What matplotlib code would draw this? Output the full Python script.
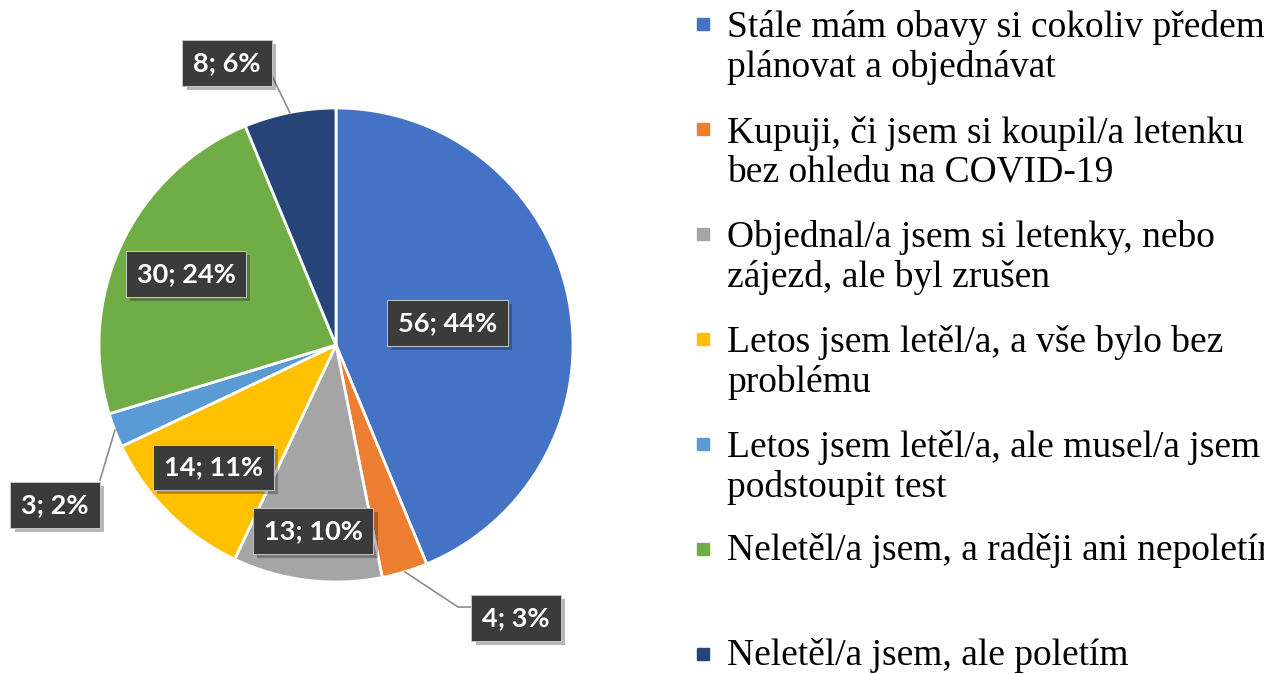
import numpy as np
import matplotlib.pyplot as plt
from matplotlib import patheffects as pe

# data
answers = ["Stále mám obavy si cokoliv předem\nplánovat a objednávat",
           "Kupuji, či jsem si koupil/a letenku\nbez ohledu na COVID-19",
           "Objednal/a jsem si letenky, nebo\nzájezd, ale byl zrušen",
           "Letos jsem letěl/a, a vše bylo bez\nproblému",
           "Letos jsem letěl/a, ale musel/a jsem\npodstoupit test",
           "Neletěl/a jsem, a raději ani nepoletím",
           "Neletěl/a jsem, ale poletím"]
counts = [56, 4, 13, 14, 3, 30, 8]
pcts = [44, 3, 10, 11, 2, 24, 6]
colors = ["#4472C4", "#ED7D31", "#A5A5A5", "#FFC000", "#5B9BD5", "#70AD47", "#264478"]

W, H = 1264, 674
cx, cy, R = 336, H - 345, 237

fig = plt.figure(figsize=(12.64, 6.74), dpi=100)
ax = fig.add_axes([0, 0, 1, 1])

wedges, _ = ax.pie(counts, colors=colors, startangle=90, counterclock=False,
                   center=(cx, cy), radius=R, frame=True,
                   wedgeprops=dict(edgecolor="white", linewidth=2))
ax.set_xlim(0, W)
ax.set_ylim(0, H)
ax.set_aspect("equal")
ax.axis("off")

## label layout: inside -> radius fraction, outside -> box centre (px from pie centre)
inside_r = {0: 0.48, 2: 0.79, 3: 0.73, 5: 0.70}
outside = {1: (180, -273), 4: (-281, -160), 6: (-109, 282)}
# leader line bends (px from pie centre)
leader = {1: [(122, -262), (136, -262)], 4: [(-236, -135)], 6: [(-63, 267)]}

def box_text(x, y, s):
	t = ax.text(x, y, s, ha="center", va="center", color="white", fontsize=19.5,
	            fontweight="bold", family=["Lato", "DejaVu Sans"], zorder=5,
	            bbox=dict(boxstyle="square,pad=0.4", fc="#3b3b3b", ec="#d0d0d0", lw=0.6))
	t.get_bbox_patch().set_path_effects([pe.withSimplePatchShadow(offset=(3, -3), alpha=0.3), pe.Normal()])
	return t

for i, w in enumerate(wedges):
	ang = np.deg2rad((w.theta1 + w.theta2) / 2)
	s = "%d; %d%%" % (counts[i], pcts[i])
	if i in inside_r:
		r = inside_r[i] * R
		box_text(cx + r * np.cos(ang), cy + r * np.sin(ang), s)
	else:
		dx, dy = outside[i]
		box_text(cx + dx, cy + dy, s)
		xs = [cx + R * np.cos(ang)] + [cx + p[0] for p in leader[i]]
		ys = [cy + R * np.sin(ang)] + [cy + p[1] for p in leader[i]]
		ax.plot(xs, ys, color="#8c8c8c", lw=1.2, zorder=4)

## legend on the right
line_h = 42
for i, lab in enumerate(answers):
	base = H - (35 + i * 105)
	nl = lab.count("\n")
	ax.plot(703, base + 11, marker="s", ms=8, color=colors[i], mec=colors[i], clip_on=False)
	ax.text(727, base - nl * line_h, lab, ha="left", va="baseline", fontsize=27,
	        family="Liberation Serif", color="black", linespacing=1.18, clip_on=False)

fig.savefig("out.png", dpi=100)
